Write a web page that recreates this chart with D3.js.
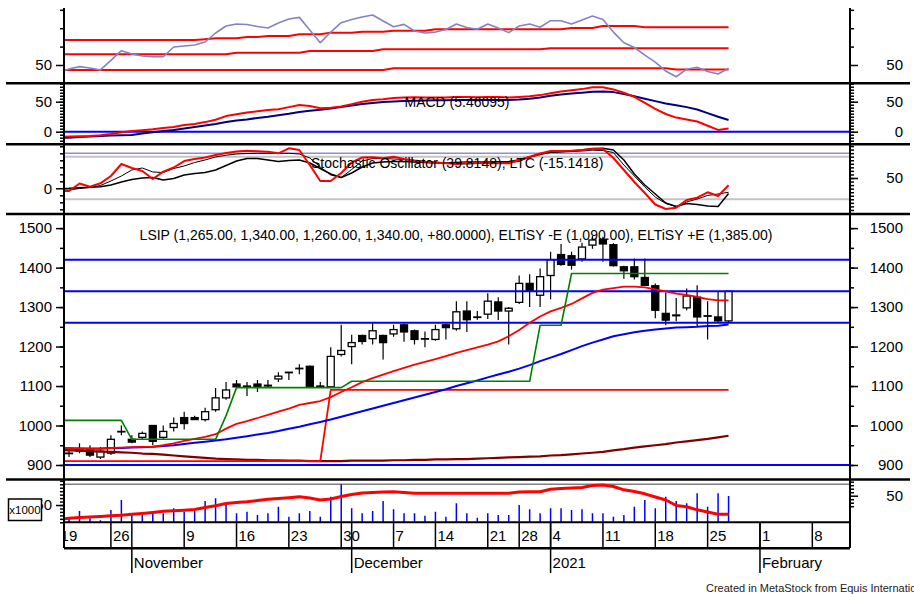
<!DOCTYPE html>
<html>
<head>
<meta charset="utf-8">
<title>LSIP | D3</title>
<script src="https://d3js.org/d3.v7.min.js"></script>
<style>
body { margin: 0; background: #fff; }
</style>
</head>
<body>
<script>
// trading days shown on the chart
var dates = ["2020-10-19","2020-10-20","2020-10-21","2020-10-22","2020-10-23","2020-10-26","2020-10-27",
 "2020-11-02","2020-11-03","2020-11-04","2020-11-05","2020-11-06","2020-11-09","2020-11-10","2020-11-11","2020-11-12","2020-11-13","2020-11-16","2020-11-17","2020-11-18","2020-11-19","2020-11-20","2020-11-23","2020-11-24","2020-11-25","2020-11-26","2020-11-27","2020-11-30",
 "2020-12-01","2020-12-02","2020-12-03","2020-12-04","2020-12-07","2020-12-08","2020-12-10","2020-12-11","2020-12-14","2020-12-15","2020-12-16","2020-12-17","2020-12-18","2020-12-21","2020-12-22","2020-12-23","2020-12-28","2020-12-29","2020-12-30",
 "2021-01-04","2021-01-05","2021-01-06","2021-01-07","2021-01-08","2021-01-11","2021-01-12","2021-01-13","2021-01-14","2021-01-15","2021-01-18","2021-01-19","2021-01-20","2021-01-21","2021-01-22","2021-01-25","2021-01-26","2021-01-27"];
// empty days to the right of the last bar
var futureDates = ["2021-01-28","2021-01-29","2021-02-01","2021-02-02","2021-02-03","2021-02-04","2021-02-05","2021-02-08","2021-02-09","2021-02-10","2021-02-11"];

var openP  = [935,930,935,940,920,930,985, 965,970,1000,970,995,1020,1020,1015,1040,1070,1105,1100,1105,1100,1118,1135,1145,1150,1098,1098,1180, 1200,1228,1220,1228,1232,1255,1240,1220,1218,1255,1245,1290,1275,1282,1313,1290,1312,1360,1330, 1380,1433,1430,1422,1457,1472,1458,1402,1402,1375,1354,1284,1278,1298,1325,1278,1275,1265];
var highP  = [945,940,955,950,945,975,1000, 975,985,1000,1000,1020,1035,1025,1045,1095,1110,1115,1110,1115,1115,1135,1135,1155,1152,1110,1198,1255, 1230,1230,1260,1230,1255,1258,1243,1238,1255,1258,1315,1315,1290,1335,1325,1300,1380,1383,1398, 1440,1460,1440,1463,1480,1478,1462,1405,1423,1423,1360,1337,1323,1347,1355,1315,1340,1340];
var lowP   = [925,920,930,920,915,925,975, 955,965,950,965,985,990,1015,1010,1035,1065,1095,1075,1085,1095,1110,1115,1130,1095,1095,1095,1175, 1155,1205,1205,1167,1225,1212,1205,1198,1215,1218,1240,1237,1268,1270,1267,1205,1308,1300,1300, 1320,1405,1395,1415,1448,1415,1403,1372,1370,1354,1272,1254,1264,1292,1250,1218,1260,1260];
var closeP = [930,930,940,925,935,965,985, 958,980,960,985,1005,1005,1015,1035,1070,1090,1098,1100,1098,1102,1125,1135,1145,1098,1100,1175,1190, 1210,1213,1240,1210,1243,1237,1218,1220,1243,1248,1288,1268,1275,1315,1290,1297,1360,1340,1377, 1420,1408,1406,1452,1470,1460,1405,1392,1377,1355,1292,1267,1280,1328,1275,1278,1265,1340];

// price overlays
var maRed  = [943,943,942,941,941,943,944, 945,946,946,950,955,961,966,971,978,992,1004,1011,1019,1027,1035,1043,1052,1057,1062,1072,1085, 1097,1110,1120,1129,1138,1146,1154,1161,1168,1176,1184,1191,1198,1205,1213,1226,1242,1260,1276, 1289,1298,1308,1322,1336,1344,1348,1352,1352,1350,1345,1340,1334,1331,1326,1320,1317,1317];
var maBlue = [941,941,942,942,942,943,943, 944,945,946,948,950,953,956,959,962,965,969,973,977,981,986,992,997,1003,1009,1015,1022, 1029,1036,1043,1050,1057,1064,1071,1078,1085,1092,1100,1107,1114,1122,1129,1136,1144,1153,1163, 1172,1181,1191,1201,1210,1218,1226,1231,1236,1240,1243,1246,1248,1249,1250,1252,1253,1256];
var maLong = [938,937,936,935,934,933,932, 931,929,928,926,924,922,920,918,916,915,914,913,913,912,912,911,911,910,910,910,910, 911,911,911,911,912,912,913,913,914,914,915,915,916,917,918,919,920,921,922, 924,925,927,929,931,933,937,940,944,947,950,953,957,960,963,966,970,974];
var eltPlus  = [1013,1013,1013,1013,1013,1013,1013, 965,965,965,965,965,965,965,965,965,1025,1096,1096,1096,1096,1096,1096,1096,1096,1096,1096,1096, 1112,1112,1112,1112,1112,1112,1112,1112,1112,1112,1112,1112,1112,1112,1112,1112,1112,1112,1254, 1254,1254,1385,1385,1385,1385,1385,1385,1385,1385,1385,1385,1385,1385,1385,1385,1385,1385];
var eltMinus = [910,910,910,910,910,910,910, 910,910,910,910,910,910,910,910,910,910,910,910,910,910,910,910,910,910,910,1090,1090, 1090,1090,1090,1090,1090,1090,1090,1090,1090,1090,1090,1090,1090,1090,1090,1090,1090,1090,1090, 1090,1090,1090,1090,1090,1090,1090,1090,1090,1090,1090,1090,1090,1090,1090,1090,1090,1090];
var levels = [900, 1260, 1340, 1420];

// top panel
var rsi      = [46,47.8,49.1,48.4,47.3,52.5,57.8, 56,54.9,54.5,54.5,59.8,60.3,60.9,62.5,67.4,71.2,72.3,72,70.9,70.1,72.8,75,75.9,69,62.1,67.9,73, 74.7,76.1,77.2,73.9,70.8,72.1,68.5,67.4,67.9,69.3,72.3,70.4,69.4,72.3,70.1,67.6,71.2,72.3,70.5, 74.1,74.1,72.3,74.5,76.6,74.8,67.9,62.1,59.5,55.4,51.6,46.7,43.6,47.7,48.8,46.5,45.1,48.2];
var rsiUpper = [63.6,63.6,63.6,63.6,63.6,63.6,63.6, 63.6,63.6,63.6,63.6,63.6,63.6,63.6,64,64.5,64.5,64.5,65.2,65.2,65.8,65.8,65.8,66.7,66.7,66.7,67.6,67.6, 67.6,68.1,68.1,68.1,68.6,68.6,68.6,68.6,69.4,69.4,69.4,69.4,69.4,69.4,69.4,69.4,69.4,69.4,69.4, 69.4,69.4,70.1,70.1,70.1,71.2,71.2,71.2,71.2,70.5,70.5,70.5,70.5,70.5,70.5,70.5,70.5,70.5];
var rsiMid   = [55.8,55.8,55.8,55.8,55.8,55.8,55.8, 55.8,55.8,55.8,55.8,55.8,55.8,55.8,55.8,55.8,55.8,56.7,56.7,56.7,56.7,56.7,56.7,56.7,57.6,57.6,57.6,57.6, 57.6,57.6,57.6,58.5,58.5,58.5,58.5,58.5,58.5,58.5,58.5,58.5,58.5,58.5,58.5,58.5,58.5,58.5,58.5, 59.1,59.1,59.1,59.1,59.1,59.1,59.1,59.1,59.1,59.1,59.1,59.1,59.1,59.1,59.1,59.1,59.1,59.1];
var rsiLower = [47.3,47.3,47.3,47.3,47.3,47.3,47.3, 47.3,47.3,47.3,47.3,47.3,47.3,47.3,47.3,47.3,47.3,47.3,47.3,47.3,47.3,47.3,47.3,47.3,47.3,47.3,47.3,47.3, 47.3,47.3,47.3,47.3,48.2,48.2,48.2,48.2,48.2,48.2,48.2,48.2,48.2,48.2,48.2,48.2,48.2,48.2,48.2, 48.2,48.2,48.2,48.2,48.2,48.2,48.2,48.2,48.2,48.2,48.2,48.2,47.6,47.6,47.6,47.6,47.6,47.6];

// MACD panel
var macd   = [-9,-8,-7.5,-7,-6,-4,-1, 1,2.5,4,6,8,11,13,16,20,26,29,32,34,36,37.5,41,44.5,43,39,40,42, 46,50,53,54,56,57,57.5,57,57,57,58,58,57.5,58,58,57,58,59,61, 64,67,69,71,74,74,70.5,65,58,48,38,29.5,23.5,20.5,17,10,3,5.5];
var signal = [-10.5,-10,-9,-8,-7,-6.5,-6, -5.5,-3,-1,1,3,5.5,8,10.5,13,16,18.5,20.5,23,25,27.5,30,33,35,36.5,38.5,41, 43.5,46,48,49.5,50.5,51,51.5,52,52.5,52.5,53,53,53,53,53,53,53.5,55,57, 60,62,63.5,65,66.5,67,66,63,59,55,51,47,44,41,37,31,25,19.5];

// stochastic panel
var stochK = [31.7,31.7,42.3,37.7,42.5,52.8,69.7, 64.1,59.9,48.6,58.9,64.8,73.9,76.8,78.9,82.4,85.2,87.3,88.5,87.6,86.9,84.8,91.8,89.4,68.3,45.8,45.8,57, 71.8,78.9,79.2,77.7,80,76.8,74.6,73,71.8,70.7,69.7,71.8,71.1,70.7,70.7,70.7,75.4,80,84.5, 88,88,88.5,89.4,90.8,90.8,78.2,61.3,44.4,28.9,12.7,6.3,8.2,19,22.3,29.9,24.6,39.8];
var stochD = [33,33.1,35.2,36.6,39.4,45.8,52.8, 61.3,64.1,58.5,57.7,63.4,66.9,71.8,75.4,79.6,82.1,83.8,84.5,84.8,84.8,84.8,84.8,83.8,78.2,65.5,54.2,50.7, 62,73.9,77.5,77.5,76.8,76.1,74.6,73.2,72.5,71.1,69.7,69.7,70.4,71.1,71.1,71.8,73.2,79.6,84.5, 85.9,86.6,87.3,88,89.2,88.7,85.9,68.3,52.8,37.3,23.2,14.1,9.9,16.2,20.4,25.4,27.5,29.9];
var ltc    = [-0.6,0,1.4,2.9,4.6,9.4,18, 25.1,29.4,30.9,23.7,28,38,42.3,45.1,52.3,65.1,78,85.1,85.1,80.9,76.6,79.4,80.9,72.3,56.6,40.9,30.9, 43.7,60.9,72.3,75.1,76.6,76.6,75.1,73.7,72.3,72.3,73.7,75.1,75.1,75.1,76,76.6,80.9,89.4,96.6, 103.7,105.1,106.6,109.4,113.7,114.3,109.4,80.9,40.9,9.4,-16.3,-42,-52,-43.4,-46.3,-50.6,-52,-15.1];

// volume panel (x1000)
var volume   = [10,9.5,32.7,11.6,5.8,35.5,64.5, 21.1,23.1,26,26,40.5,30.6,32.7,61.6,69.4,52,26,30.6,21.1,26,45.1,16.2,26,32.7,16.2,74,109.8, 40.5,26,32.7,61.6,37.6,26,26,19.1,30.6,16.2,54.9,26,13.3,26,21.1,21.1,50,37.6,26, 40.5,40.5,35.5,37.6,26,26,16.2,21.1,45.1,64.5,40.5,74,61.6,54.9,83.8,45.1,83.8,76];
var volumeMA = [9.5,11.6,13.9,15.3,16.8,18.8,20.5, 23.1,25.4,28.3,31.8,33.2,34.9,37,42.8,47.7,54.3,57.2,59.5,63,66.5,68.8,71.1,73.7,70.2,64.5,67.3,74.6, 80.3,84.7,86.1,87.6,88.4,86.1,83.8,83.8,83.8,83.8,83.8,83.8,83.8,83.8,83.8,83.8,87.6,88.4,88.4, 95.4,97.7,99.1,100.6,106.4,107.8,103.5,94,89,82.4,73.1,64.5,48.6,45.1,36.1,29.8,23.1,23.1];

// date axis labels
var weekTickDates  = ["2020-10-19","2020-10-26","2020-11-09","2020-11-16","2020-11-23","2020-11-30","2020-12-07","2020-12-14","2020-12-21","2020-12-28","2021-01-04","2021-01-11","2021-01-18","2021-01-25","2021-02-01","2021-02-08"];
var weekTickLabels = ["19","26","9","16","23","30","7","14","21","28","4","11","18","25","1","8"];
var monthTickDates  = ["2020-11-02","2020-12-01","2021-01-04","2021-02-01"];
var monthTickLabels = ["November","December","2021","February"];

var FONT = '"Liberation Sans", Arial, sans-serif';
var width = 914, height = 594;
var L = 64, R = 850;
var allDates = dates.concat(futureDates);

var svg = d3.select("body").append("svg")
  .attr("width", width).attr("height", height)
  .style("font-family", FONT);

// x: one slot per trading day
var x = d3.scaleLinear().domain([0.52, 75.6]).range([L, R]);
var xd = function(d) { return x(allDates.indexOf(d)); };

// panel bounds
var P = {
  top:   [8, 83.3],
  macd:  [83.3, 144.3],
  stoch: [144.3, 214],
  price: [214, 479.5],
  vol:   [479.5, 522.3]
};

var yTop   = d3.scaleLinear().domain([40.2, 81]).range([83, 8]);
var yMacd  = d3.scaleLinear().domain([-21, 80.7]).range([144.3, 83.3]);
var yStoch = d3.scaleLinear().domain([0, 100]).range([213.5, 142.5]);
var yLtc   = d3.scaleLinear().domain([-73.4, 125.7]).range([214, 144.3]);
var yPrice = d3.scaleLinear().domain([863.2, 1535.8]).range([479.5, 214]);
var yVol   = d3.scaleLinear().domain([0, 125]).range([522.3, 479.1]);
var yVolR  = d3.scaleLinear().domain([0, 100]).range([513.2, 478.2]);

var defs = svg.append("defs");
Object.keys(P).forEach(function(k) {
  defs.append("clipPath").attr("id", "clip-" + k)
    .append("rect").attr("x", L).attr("y", P[k][0])
    .attr("width", R - L).attr("height", P[k][1] - P[k][0]);
});
function panel(k) { return svg.append("g").attr("clip-path", "url(#clip-" + k + ")"); }

function series(g, data, scale, color, w) {
  var line = d3.line().x(function(d, i) { return x(i); }).y(function(d) { return scale(d); });
  g.append("path").datum(data).attr("d", line)
    .attr("fill", "none").attr("stroke", color).attr("stroke-width", w)
    .attr("stroke-linejoin", "round");
}
function hline(g, y, color, w) {
  g.append("line").attr("x1", L).attr("x2", R).attr("y1", y).attr("y2", y)
    .attr("stroke", color).attr("stroke-width", w);
}

// ---- top panel
var gTop = panel("top");
series(gTop, rsiUpper, yTop, "#ff0000", 2);
series(gTop, rsiMid, yTop, "#ff0000", 2);
series(gTop, rsiLower, yTop, "#ff0000", 2);
series(gTop, rsi, yTop, "#8383c8", 1.6);

// ---- MACD panel
var gMacd = panel("macd");
hline(gMacd, yMacd(0), "#0000ff", 2);
series(gMacd, signal, yMacd, "#000080", 2);
series(gMacd, macd, yMacd, "#ff0000", 2);

// ---- stochastic panel
var gSt = panel("stoch");
hline(gSt, yLtc(100), "#8c8ce0", 1.5);
hline(gSt, yStoch(80), "#c4c4c4", 2);
hline(gSt, yStoch(20), "#c4c4c4", 2);
series(gSt, ltc, yLtc, "#000", 1.5);
series(gSt, stochD, yStoch, "#000", 1);
series(gSt, stochK, yStoch, "#ff0000", 2);

// ---- price panel
var gPr = panel("price");
var bw = 7;
dates.forEach(function(d, i) {
  var cx = x(i);
  gPr.append("line").attr("x1", cx).attr("x2", cx)
    .attr("y1", yPrice(highP[i])).attr("y2", yPrice(lowP[i]))
    .attr("stroke", "#000").attr("stroke-width", 1.2);
  var top = yPrice(Math.max(openP[i], closeP[i]));
  var bot = yPrice(Math.min(openP[i], closeP[i]));
  gPr.append("rect").attr("x", cx - bw / 2).attr("y", top)
    .attr("width", bw).attr("height", Math.max(bot - top, 0.5))
    .attr("fill", closeP[i] < openP[i] ? "#000" : "#fff")
    .attr("stroke", "#000").attr("stroke-width", 1.3);
});
levels.forEach(function(v) { hline(gPr, yPrice(v), "#0000ff", 2); });
series(gPr, maLong, yPrice, "#800000", 2.2);
series(gPr, eltMinus, yPrice, "#ff0000", 1.8);
series(gPr, maBlue, yPrice, "#0000ff", 2);
series(gPr, maRed, yPrice, "#ff0000", 1.8);
series(gPr, eltPlus, yPrice, "#008000", 1.6);

// ---- volume panel
var gVol = panel("vol");
hline(gVol, 484.3, "#808080", 1.5);
gVol.selectAll("line.vb").data(volume).enter().append("line")
  .attr("class", "vb")
  .attr("x1", function(d, i) { return x(i); }).attr("x2", function(d, i) { return x(i); })
  .attr("y1", yVol(0)).attr("y2", function(d) { return yVol(d); })
  .attr("stroke", "#0000ff").attr("stroke-width", 1.5);
series(gVol, volumeMA, yVol, "#ff0000", 3);

// ---- vertical axes
function drawAxis(scale, side, majors, minors) {
  var g = svg.append("g");
  var mk = side === "left" ? d3.axisLeft : d3.axisRight;
  var ax = side === "left" ? L : R;
  var gmin = g.append("g").attr("transform", "translate(" + ax + ",0)")
    .call(mk(scale).tickValues(minors).tickSize(4).tickFormat(""));
  var gmaj = g.append("g").attr("transform", "translate(" + ax + ",0)")
    .call(mk(scale).tickValues(majors).tickSize(8).tickPadding(4).tickFormat(d3.format("d")));
  [gmin, gmaj].forEach(function(a) {
    a.select(".domain").remove();
    a.selectAll("line").attr("stroke", "#000").attr("stroke-width", 1.5);
    a.attr("font-family", FONT).attr("font-size", 15);
  });
  gmaj.selectAll("text").attr("fill", "#000");
  if (side === "right") gmaj.selectAll("text").attr("text-anchor", "end").attr("x", 53);
  return g;
}
["left", "right"].forEach(function(s) {
  drawAxis(yTop, s, [50], [60, 70, 80]);
  drawAxis(yMacd, s, [0, 50], d3.range(-20, 81, 5));
  drawAxis(yPrice, s, d3.range(900, 1501, 100), d3.range(900, 1501, 50));
});
drawAxis(yLtc, "left", [0], [-60, -40, -20, 20, 40, 60, 80, 100, 120]);
drawAxis(yStoch, "right", [50], d3.range(5, 96, 5));
drawAxis(yVol, "left", [50], d3.range(0, 121, 10));
drawAxis(yVolR, "right", [50], [20, 30, 40, 60, 70, 80, 90]);

// "x1000" box over the volume label
svg.append("rect").attr("x", 8.5).attr("y", 499).attr("width", 33).attr("height", 21.5)
  .attr("fill", "#fff").attr("stroke", "#000").attr("stroke-width", 1.5);
svg.append("text").attr("x", 25).attr("y", 514).attr("text-anchor", "middle")
  .attr("font-size", 11.5).attr("fill", "#000").text("x1000");

// axis frame and panel separators
svg.append("line").attr("x1", L).attr("x2", L).attr("y1", 8).attr("y2", 548).attr("stroke", "#000").attr("stroke-width", 2);
svg.append("line").attr("x1", R).attr("x2", R).attr("y1", 8).attr("y2", 548).attr("stroke", "#000").attr("stroke-width", 2);
[83.3, 144.3, 214, 479.5].forEach(function(y) {
  svg.append("line").attr("x1", 6).attr("x2", 910).attr("y1", y).attr("y2", y)
    .attr("stroke", "#000").attr("stroke-width", 2.5);
});

// ---- date axis
defs.append("clipPath").attr("id", "clip-date")
  .append("rect").attr("x", L).attr("y", 520).attr("width", R - L).attr("height", 60);
var gDate = svg.append("g").attr("clip-path", "url(#clip-date)");
gDate.append("line").attr("x1", L).attr("x2", R).attr("y1", 522.3).attr("y2", 522.3).attr("stroke", "#000").attr("stroke-width", 2);
gDate.append("line").attr("x1", L).attr("x2", R).attr("y1", 548.3).attr("y2", 548.3).attr("stroke", "#000").attr("stroke-width", 2.5);
weekTickDates.forEach(function(d, i) {
  var tx = xd(d);
  gDate.append("line").attr("x1", tx).attr("x2", tx).attr("y1", 522.3).attr("y2", 548.3)
    .attr("stroke", "#000").attr("stroke-width", 1.5);
  gDate.append("text").attr("x", tx + 2).attr("y", 541).attr("font-size", 15)
    .attr("fill", "#000").text(weekTickLabels[i]);
});
monthTickDates.forEach(function(d, i) {
  var tx = xd(d);
  gDate.append("line").attr("x1", tx).attr("x2", tx).attr("y1", 522.3).attr("y2", 573)
    .attr("stroke", "#000").attr("stroke-width", 1.5);
  gDate.append("text").attr("x", tx + 2).attr("y", 567.5).attr("font-size", 15)
    .attr("fill", "#000").text(monthTickLabels[i]);
});

// ---- captions
svg.append("text").attr("x", 456).attr("y", 240).attr("text-anchor", "middle")
  .attr("font-size", 14).attr("fill", "#000")
  .text("LSIP (1,265.00, 1,340.00, 1,260.00, 1,340.00, +80.0000), ELTiSY -E (1,090.00), ELTiSY +E (1,385.00)");
svg.append("text").attr("x", 457).attr("y", 107).attr("text-anchor", "middle")
  .attr("font-size", 14).attr("fill", "#000").text("MACD (5.46095)");
svg.append("text").attr("x", 311).attr("y", 168).attr("font-size", 14).attr("fill", "#000")
  .text("Stochastic Oscillator (39.8148), LTC (-15.1418)");
svg.append("text").attr("x", 706).attr("y", 592).attr("font-size", 11).attr("fill", "#222")
  .text("Created in MetaStock from Equis International");
</script>
</body>
</html>
